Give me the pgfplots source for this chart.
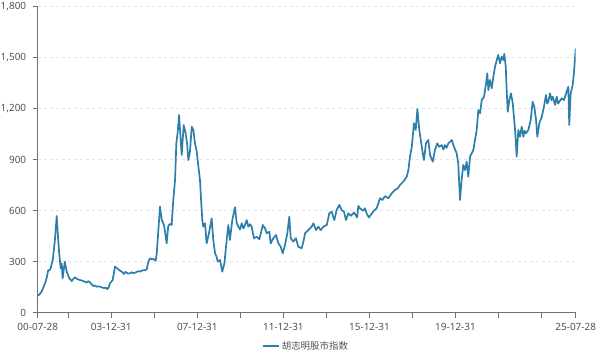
\documentclass[border=0pt]{standalone}
\usepackage{pgfplots}
\pgfplotsset{compat=1.18}
\usepackage{fontspec}
\setmainfont{Noto Sans}
\newfontfamily\cjk{Noto Sans CJK SC}
\definecolor{linec}{RGB}{44,127,170}
\definecolor{axisc}{RGB}{110,112,121}
\definecolor{gridc}{RGB}{224,230,241}
\definecolor{labc}{RGB}{80,82,90}
\begin{document}
\begin{tikzpicture}
\path[use as bounding box] (0,0) rectangle (600bp,355bp);
\begin{axis}[
  at={(37.7bp,42.3bp)}, anchor=south west,
  scale only axis, width=538bp, height=306bp,
  xmin=0, xmax=300, ymin=0, ymax=1800,
  axis x line*=bottom, axis y line*=left,
  axis line style={color=axisc, line width=0.8bp},
  ytick={0,300,600,900,1200,1500,1800},
  xtick={0,17,41,65,89,113,137,161,185,209,233,257,281,300},
  xticklabels={00-07-28,,03-12-31,,07-12-31,,11-12-31,,15-12-31,,19-12-31,,,25-07-28},
  tick align=outside, major tick length=5bp,
  tick style={color=axisc, line width=0.8bp},
  ymajorgrids, major grid style={color=gridc, dash pattern=on 3bp off 3bp, line width=0.8bp},
  /pgf/number format/assume math mode=true,
  /pgf/number format/.cd, 1000 sep={,},
  /pgfplots/.cd,
  ticklabel style={font=\fontsize{10}{12}\selectfont, text=labc},
  yticklabel style={xshift=-3bp},
  xticklabel style={yshift=-2bp},
  legend style={at={(0.498,-0.109)}, anchor=center, draw=none, fill=none,
    font=\cjk\fontsize{9.5}{11}\selectfont, text=labc},
  legend image code/.code={\draw[line width=2.6bp, linec] (0bp,0bp) -- (16bp,0bp);},
]
\addplot[linec, line width=1.7bp, line join=round] coordinates {
(0,100)(1.0,108)(2.2,124)(3.2,150)(4.1,173)(5.0,205)(5.9,251)(6.5,248)(7.2,261)(8.4,310)(9.6,428)(10.6,569)(11.3,447)(12.0,349)
(12.8,261)(13.4,290)(13.9,202)(14.5,250)(15.1,300)(16.2,241)(17.6,202)(18.3,195)(19.0,186)(19.8,198)(20.8,208)(21.7,200)(22.6,196)
(23.5,192)(24.4,190)(25.4,186)(26.3,183)(27.3,177)(28.1,185)(28.8,182)(29.8,170)(31.0,157)(32.0,160)(32.9,153)(34.2,155)(35.7,149)
(37.0,145)(38.0,147)(38.8,138)(39.6,150)(40.3,173)(41.8,192)
(43.1,271)(43.8,265)(44.4,261)(45.3,252)(46.3,245)(47.2,238)(48.1,228)(48.8,240)(49.6,235)(50.5,230)(51.5,232)(52.4,238)(53.3,233)
(54.3,235)(55.2,240)(56.2,244)(57.1,242)(58.0,247)(59.0,250)(59.8,250)(60.8,255)(61.5,290)(62.1,310)(62.8,320)(63.6,314)(64.5,316)
(65.8,306)(66.4,350)(66.9,428)(68.2,624)(69.2,545)(70.1,526)(70.6,506)(71.9,408)
(72.8,510)(73.8,522)(74.7,516)(75.6,663)(76.6,781)(77.3,996)(78.1,1065)(78.8,1163)(79.5,1055)
(80.3,928)(81.4,1104)(82.5,1055)(83.3,996)(84.0,898)(84.9,947)(85.9,1094)(86.8,1075)(87.7,996)
(88.7,947)(89.6,859)(90.5,781)(91.1,663)(91.8,545)(92.3,506)(93.3,526)(94.2,408)(95.5,467)
(97.0,555)(97.9,428)(98.9,349)(99.7,330)(100.4,300)(101.7,310)(102.9,241)(104.1,290)(105.4,428)(106.3,516)
(107.2,428)(108.5,545)(110.0,620)(111.0,526)(111.9,506)(112.8,490)(113.8,526)(114.7,496)(115.6,516)
(116.5,545)(117.5,506)(118.4,520)(119.3,506)(120.6,438)(122.1,447)(123.6,432)(124.5,470)(125.5,516)(126.8,496)(127.7,467)
(129.2,476)(129.9,408)(131.4,438)(132.9,457)(134.2,408)(135.5,388)(136.6,349)(137.9,398)(139.2,467)
(140.3,565)(141.1,438)(142.5,418)(144.0,438)(145.3,388)(147.2,379)(148.2,420)(149.1,467)(150.9,486)(152.8,506)
(153.7,526)(155.2,486)(156.5,506)(157.8,486)(159.3,506)(161.2,516)(162.6,585)(163.9,594)(165.4,545)
(166.7,604)(168.2,634)(169.5,604)(170.8,594)(171.9,545)(173.2,585)(174.7,570)(176.4,590)(178.1,560)
(178.8,628)(179.7,614)(181.4,600)(182.5,614)(183.6,580)(184.7,560)(186.4,585)(187.5,600)(189.0,614)
(190.9,673)(192.2,663)(193.7,686)(195.5,673)(197.4,702)(199.2,722)(200.8,732)(202.0,751)(203.9,771)
(205.8,800)(206.7,839)(207.6,918)(208.6,976)(209.8,1114)(210.8,1075)(211.7,1198)(212.8,1075)(213.6,1016)
(214.7,938)(215.4,898)(216.5,996)(217.8,1016)(218.8,928)(220.3,888)(221.5,957)(222.8,996)(223.9,976)
(225.3,986)(226.2,960)(227.1,986)(228.0,970)(229.0,996)(230.9,1016)(232.1,976)(233.6,938)(234.5,879)(235.5,663)(236.4,781)
(237.3,869)(238.3,839)(239.2,888)(240.1,800)(241.1,918)(242.9,957)(244.8,1075)(245.7,1192)(246.7,1173)
(247.6,1251)(248.9,1271)(250.0,1349)(250.7,1408)(251.3,1310)(252.2,1369)(253.2,1320)(254.1,1388)(255.0,1447)
(256.0,1486)(256.8,1516)(257.8,1467)(258.7,1506)(259.6,1486)(260.2,1522)(261.0,1447)(261.5,1310)(262.1,1182)
(263.0,1251)(263.9,1290)(264.9,1232)(266.2,1075)(267.1,918)(268.0,1075)(268.9,1035)(269.9,1094)(270.8,1035)
(271.5,1070)(272.3,1055)(273.6,1075)(274.9,1133)(276.0,1241)(276.9,1212)(277.9,1133)(278.6,1035)(279.7,1114)(281.1,1153)
(282.3,1212)(283.4,1280)(284.1,1230)(284.7,1241)(285.7,1290)(286.5,1250)(287.2,1271)(288.5,1222)(289.4,1271)(290.2,1230)(290.9,1241)(292.2,1261)
(293.5,1251)(294.2,1275)(295.0,1300)(295.9,1329)(296.4,1104)(297.2,1290)(298.3,1339)(299.0,1408)(300.0,1555)
};
\addlegendentry{胡志明股市指数}
\end{axis}
\end{tikzpicture}
\end{document}
